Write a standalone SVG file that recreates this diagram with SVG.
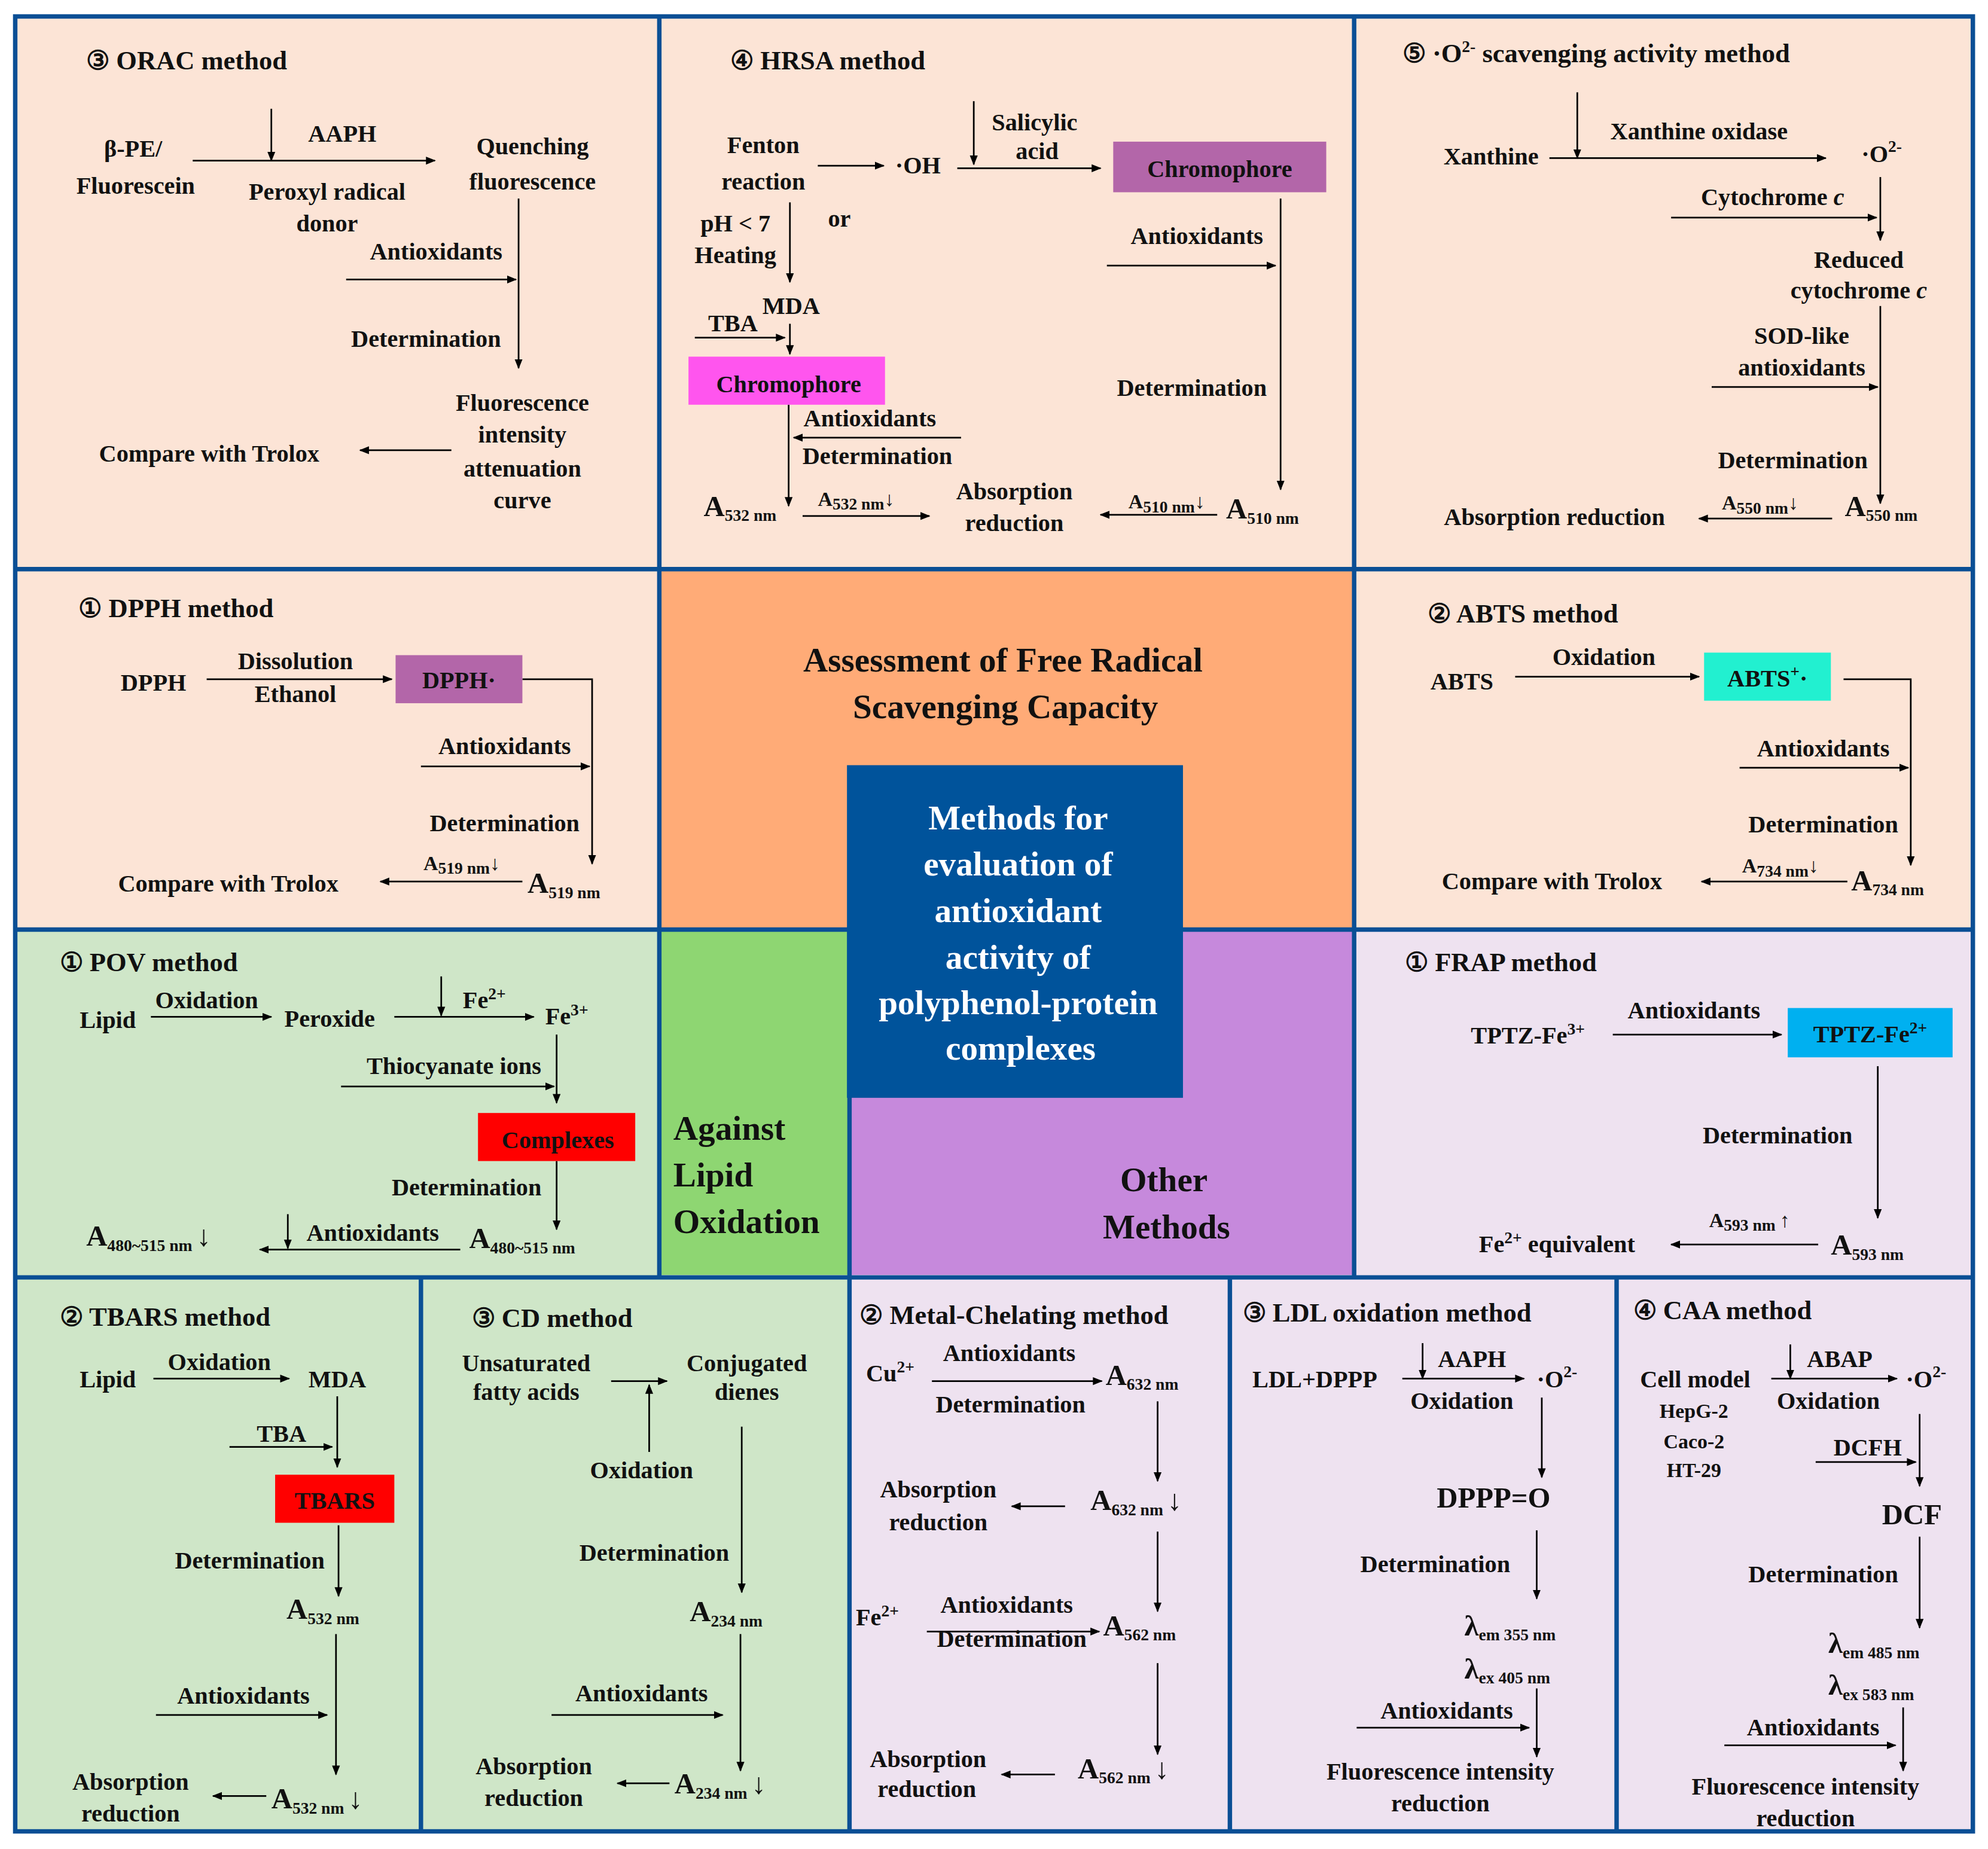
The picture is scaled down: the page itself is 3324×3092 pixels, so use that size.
<svg xmlns="http://www.w3.org/2000/svg" width="3324" height="3092" viewBox="0 0 3324 3092">
<style>
text{font-family:"Liberation Serif","Times New Roman",serif;font-weight:bold;fill:#111;font-size:19px}
.c{text-anchor:middle}
.h{font-size:21px}
.big{font-size:27px}
.w{fill:#fff}
.s{font-size:13px}
.sm{font-size:16px}
.A{font-size:23px}
.ln{stroke:#000;stroke-width:1.3;fill:none}
.ar{stroke:#000;stroke-width:1.3;fill:none;marker-end:url(#m)}
.grid{stroke:#0A4F95;stroke-width:3.5;fill:none}
</style>
<defs>
<marker id="m" viewBox="0 0 10 10" refX="9" refY="5" markerWidth="6" markerHeight="6" orient="auto" markerUnits="strokeWidth"><path d="M0,1 L10,5 L0,9 z" fill="#000"/></marker>
</defs>
<rect width="3324" height="3092" fill="#fff"/>
<g transform="scale(2.12,2.115)">
<g id="backgrounds">
<rect x="12" y="13" width="1544" height="722" fill="#FCE4D6"/>
<rect x="520" y="450" width="548" height="285" fill="#FFAB77"/>
<rect x="12" y="735" width="658" height="713" fill="#CFE6C8"/>
<rect x="520" y="735" width="150" height="273" fill="#8ED672"/>
<rect x="670" y="735" width="886" height="713" fill="#EEE2F0"/>
<rect x="670" y="735" width="398" height="273" fill="#C689DC"/>
</g>
<g id="grid">
<rect class="grid" x="12" y="13" width="1544" height="1435"/>
<path class="grid" d="M12,450H1556 M12,735H1556 M12,1010H1556 M520,13V1010 M1068,13V1010 M670,735V1448 M332,1010V1448 M970,1010V1448 M1275,1010V1448"/>
</g>
<g id="center">
<rect x="668" y="605" width="265" height="263" fill="#00539B"/>
<text class="c big w" x="803" y="656">Methods for</text>
<text class="c big w" x="803" y="692">evaluation of</text>
<text class="c big w" x="803" y="729">antioxidant</text>
<text class="c big w" x="803" y="766">activity of</text>
<text class="c big w" x="803" y="802">polyphenol-protein</text>
<text class="c big w" x="805" y="838">complexes</text>
</g>
<g id="category-labels">
<text class="c big" x="791" y="531">Assessment of Free Radical</text>
<text class="c big" x="793" y="568">Scavenging Capacity</text>
<text class="big" x="531" y="901">Against</text>
<text class="big" x="531" y="938">Lipid</text>
<text class="big" x="531" y="975">Oxidation</text>
<text class="c big" x="918" y="942">Other</text>
<text class="c big" x="920" y="979">Methods</text>
</g>
<g id="connectors">
<!-- ORAC -->
<path class="ar" d="M152,127H343"/><path class="ar" d="M214,86V127"/>
<path class="ar" d="M409,157V291"/><path class="ar" d="M273,221H407"/>
<path class="ar" d="M356,356H284"/>
<!-- HRSA -->
<path class="ar" d="M645,131H697"/><path class="ar" d="M768,80V130"/><path class="ar" d="M755,133H868"/>
<path class="ar" d="M623,160V223"/><path class="ar" d="M548,267H619"/><path class="ar" d="M623,256V280"/>
<path class="ar" d="M622,320V400"/><path class="ar" d="M758,346H626"/><path class="ar" d="M633,408H733"/>
<path class="ar" d="M873,210H1006"/><path class="ar" d="M1010,157V387"/><path class="ar" d="M960,407H868"/>
<!-- O2 -->
<path class="ar" d="M1222,125H1440"/><path class="ar" d="M1244,73V125"/>
<path class="ar" d="M1483,140V190"/><path class="ar" d="M1318,172H1480"/>
<path class="ar" d="M1483,242V398"/><path class="ar" d="M1350,306H1481"/><path class="ar" d="M1445,410H1340"/>
<!-- DPPH -->
<path class="ar" d="M163,537H309"/><path class="ar" d="M412,537H467V683"/><path class="ar" d="M332,606H465"/><path class="ar" d="M412,697H300"/>
<!-- ABTS -->
<path class="ar" d="M1195,535H1340"/><path class="ar" d="M1454,537H1507V684"/><path class="ar" d="M1372,607H1505"/><path class="ar" d="M1457,697H1342"/>
<!-- POV -->
<path class="ar" d="M119,804H214"/><path class="ar" d="M311,804H421"/><path class="ar" d="M348,772V803"/>
<path class="ar" d="M439,818V872"/><path class="ar" d="M269,859H437"/><path class="ar" d="M439,918V972"/>
<path class="ar" d="M363,988H205"/><path class="ar" d="M227,960V987"/>
<!-- FRAP -->
<path class="ar" d="M1272,818H1405"/><path class="ar" d="M1481,843V963"/><path class="ar" d="M1434,984H1318"/>
<!-- TBARS -->
<path class="ar" d="M121,1090H228"/><path class="ar" d="M266,1104V1160"/><path class="ar" d="M181,1144H262"/>
<path class="ar" d="M267,1206V1262"/><path class="ar" d="M265,1292V1403"/><path class="ar" d="M123,1356H258"/><path class="ar" d="M210,1420H168"/>
<!-- CD -->
<path class="ar" d="M482,1092H526"/><path class="ar" d="M512,1148V1095"/><path class="ar" d="M585,1128V1259"/>
<path class="ar" d="M584,1292V1400"/><path class="ar" d="M435,1356H570"/><path class="ar" d="M528,1410H487"/>
<!-- Metal -->
<path class="ar" d="M735,1092H869"/><path class="ar" d="M913,1108V1171"/><path class="ar" d="M840,1191H798"/>
<path class="ar" d="M913,1211V1274"/><path class="ar" d="M731,1290H867"/><path class="ar" d="M913,1315V1387"/><path class="ar" d="M832,1403H790"/>
<!-- LDL -->
<path class="ar" d="M1106,1090H1202"/><path class="ar" d="M1122,1062V1090"/><path class="ar" d="M1216,1105V1168"/>
<path class="ar" d="M1212,1210V1264"/><path class="ar" d="M1212,1335V1389"/><path class="ar" d="M1070,1366H1206"/>
<!-- CAA -->
<path class="ar" d="M1397,1090H1496"/><path class="ar" d="M1412,1063V1090"/><path class="ar" d="M1514,1118V1175"/><path class="ar" d="M1432,1156H1511"/>
<path class="ar" d="M1514,1215V1287"/><path class="ar" d="M1501,1350V1400"/><path class="ar" d="M1360,1380H1495"/>
</g>
<g id="orac">
<text class="h" x="68" y="55">③ ORAC method</text>
<text class="c" x="105" y="124">β-PE/</text><text class="c" x="107" y="153">Fluorescein</text>
<text class="c" x="270" y="112">AAPH</text>
<text class="c" x="258" y="158">Peroxyl radical</text><text class="c" x="258" y="183">donor</text>
<text class="c" x="420" y="122">Quenching</text><text class="c" x="420" y="150">fluorescence</text>
<text class="c" x="344" y="205">Antioxidants</text><text class="c" x="336" y="274">Determination</text>
<text class="c" x="412" y="325">Fluorescence</text><text class="c" x="412" y="350">intensity</text><text class="c" x="412" y="377">attenuation</text><text class="c" x="412" y="402">curve</text>
<text class="c" x="165" y="365">Compare  with  Trolox</text>
</g>
<g id="hrsa">
<text class="h" x="576" y="55">④ HRSA method</text>
<text class="c" x="602" y="121">Fenton</text><text class="c" x="602" y="150">reaction</text>
<text class="c" x="724" y="137">·OH</text>
<text class="c" x="816" y="103">Salicylic</text><text class="c" x="818" y="126">acid</text>
<rect x="878" y="112" width="168" height="40" fill="#B366A9"/>
<text class="c" x="962" y="140">Chromophore</text>
<text class="c" x="662" y="179">or</text>
<text class="c" x="580" y="183">pH &lt; 7</text><text class="c" x="580" y="208">Heating</text>
<text class="c" x="624" y="248">MDA</text><text class="c" x="578" y="262">TBA</text>
<rect x="543" y="282" width="155" height="38" fill="#FF55EE"/>
<text class="c" x="622" y="310">Chromophore</text>
<text class="c" x="686" y="337">Antioxidants</text><text class="c" x="692" y="367">Determination</text>
<text class="A" x="555" y="408">A<tspan class="s" dy="4">532 nm</tspan></text>
<text class="sm" x="645" y="400">A<tspan class="s" dy="3">532 nm</tspan><tspan dy="-3">↓</tspan></text>
<text class="c" x="800" y="395">Absorption</text><text class="c" x="800" y="420">reduction</text>
<text class="c" x="944" y="193">Antioxidants</text><text class="c" x="940" y="313">Determination</text>
<text class="sm" x="890" y="402">A<tspan class="s" dy="3">510 nm</tspan><tspan dy="-3">↓</tspan></text>
<text class="A" x="967" y="410">A<tspan class="s" dy="4">510 nm</tspan></text>
</g>
<g id="superoxide">
<text class="h" x="1106" y="49">⑤ ·O<tspan class="s" dy="-8">2-</tspan><tspan dy="8"> scavenging activity method</tspan></text>
<text class="c" x="1176" y="130">Xanthine</text>
<text class="c" x="1340" y="110">Xanthine oxidase</text>
<text class="c" x="1484" y="128">·O<tspan class="s" dy="-8">2-</tspan></text>
<text class="c" x="1398" y="162">Cytochrome <tspan font-style="italic">c</tspan></text>
<text class="c" x="1466" y="212">Reduced</text><text class="c" x="1466" y="236">cytochrome <tspan font-style="italic">c</tspan></text>
<text class="c" x="1421" y="272">SOD-like</text><text class="c" x="1421" y="297">antioxidants</text>
<text class="c" x="1414" y="370">Determination</text>
<text class="sm" x="1358" y="403">A<tspan class="s" dy="3">550 nm</tspan><tspan dy="-3">↓</tspan></text>
<text class="A" x="1455" y="408">A<tspan class="s" dy="4">550 nm</tspan></text>
<text class="c" x="1226" y="415">Absorption reduction</text>
</g>
<g id="dpph">
<text class="h" x="62" y="488">① DPPH method</text>
<text class="c" x="121" y="546">DPPH</text>
<text class="c" x="233" y="529">Dissolution</text><text class="c" x="233" y="555">Ethanol</text>
<rect x="312" y="518" width="100" height="38" fill="#B366A9"/>
<text class="c" x="362" y="544">DPPH·</text>
<text class="c" x="398" y="596">Antioxidants</text><text class="c" x="398" y="657">Determination</text>
<text class="sm" x="334" y="688">A<tspan class="s" dy="3">519 nm</tspan><tspan dy="-3">↓</tspan></text>
<text class="A" x="416" y="706">A<tspan class="s" dy="4">519 nm</tspan></text>
<text class="c" x="180" y="705">Compare  with  Trolox</text>
</g>
<g id="abts">
<text class="h" x="1126" y="492">② ABTS method</text>
<text class="c" x="1153" y="545">ABTS</text>
<text class="c" x="1265" y="526">Oxidation</text>
<rect x="1344" y="516" width="100" height="38" fill="#22F0D0"/>
<text class="c" x="1394" y="543">ABTS<tspan class="s" dy="-8">+</tspan><tspan dy="8">·</tspan></text>
<text class="c" x="1438" y="598">Antioxidants</text><text class="c" x="1438" y="658">Determination</text>
<text class="sm" x="1374" y="690">A<tspan class="s" dy="3">734 nm</tspan><tspan dy="-3">↓</tspan></text>
<text class="A" x="1460" y="704">A<tspan class="s" dy="4">734 nm</tspan></text>
<text class="c" x="1224" y="703">Compare  with  Trolox</text>
</g>
<g id="pov">
<text class="h" x="47" y="768">① POV method</text>
<text class="c" x="85" y="813">Lipid</text><text class="c" x="163" y="797">Oxidation</text>
<text class="c" x="260" y="812">Peroxide</text>
<text class="c" x="382" y="797">Fe<tspan class="s" dy="-7">2+</tspan></text>
<text class="c" x="447" y="810">Fe<tspan class="s" dy="-7">3+</tspan></text>
<text class="c" x="358" y="849">Thiocyanate ions</text>
<rect x="377" y="880" width="124" height="38" fill="#FF0000"/>
<text class="c" x="440" y="908">Complexes</text>
<text class="c" x="368" y="945">Determination</text>
<text class="c" x="294" y="981">Antioxidants</text>
<text class="A" x="370" y="987">A<tspan class="s" dy="4">480~515 nm</tspan></text>
<text class="A" x="68" y="985">A<tspan class="s" dy="4">480~515 nm </tspan><tspan dy="-4">↓</tspan></text>
</g>
<g id="frap">
<text class="h" x="1108" y="768">① FRAP method</text>
<text class="c" x="1205" y="825">TPTZ-Fe<tspan class="s" dy="-7">3+</tspan></text>
<text class="c" x="1336" y="805">Antioxidants</text>
<rect x="1410" y="797" width="130" height="39" fill="#00B0F0"/>
<text class="c" x="1475" y="824">TPTZ-Fe<tspan class="s" dy="-7">2+</tspan></text>
<text class="c" x="1402" y="904">Determination</text>
<text class="sm" x="1348" y="970">A<tspan class="s" dy="3">593 nm </tspan><tspan dy="-3">↑</tspan></text>
<text class="A" x="1444" y="992">A<tspan class="s" dy="4">593 nm</tspan></text>
<text class="c" x="1228" y="990">Fe<tspan class="s" dy="-7">2+</tspan><tspan dy="7"> equivalent</tspan></text>
</g>
<g id="tbars">
<text class="h" x="47" y="1048">② TBARS method</text>
<text class="c" x="85" y="1097">Lipid</text><text class="c" x="173" y="1083">Oxidation</text>
<text class="c" x="266" y="1097">MDA</text><text class="c" x="222" y="1140">TBA</text>
<rect x="217" y="1166" width="94" height="38" fill="#FF0000"/>
<text class="c" x="264" y="1193">TBARS</text>
<text class="c" x="197" y="1240">Determination</text>
<text class="A" x="226" y="1280">A<tspan class="s" dy="4">532 nm</tspan></text>
<text class="c" x="192" y="1347">Antioxidants</text>
<text class="A" x="214" y="1430">A<tspan class="s" dy="4">532 nm </tspan><tspan dy="-4">↓</tspan></text>
<text class="c" x="103" y="1415">Absorption</text><text class="c" x="103" y="1440">reduction</text>
</g>
<g id="cd">
<text class="h" x="372" y="1049">③ CD method</text>
<text class="c" x="415" y="1084">Unsaturated</text><text class="c" x="415" y="1107">fatty acids</text>
<text class="c" x="589" y="1084">Conjugated</text><text class="c" x="589" y="1107">dienes</text>
<text class="c" x="506" y="1169">Oxidation</text><text class="c" x="516" y="1234">Determination</text>
<text class="A" x="544" y="1282">A<tspan class="s" dy="4">234 nm</tspan></text>
<text class="c" x="506" y="1345">Antioxidants</text>
<text class="A" x="532" y="1418">A<tspan class="s" dy="4">234 nm </tspan><tspan dy="-4">↓</tspan></text>
<text class="c" x="421" y="1403">Absorption</text><text class="c" x="421" y="1428">reduction</text>
</g>
<g id="metal">
<text class="h" x="678" y="1047">② Metal-Chelating  method</text>
<text x="683" y="1092">Cu<tspan class="s" dy="-7">2+</tspan></text>
<text class="c" x="796" y="1076">Antioxidants</text><text class="c" x="797" y="1117">Determination</text>
<text class="A" x="872" y="1095">A<tspan class="s" dy="4">632 nm</tspan></text>
<text class="c" x="740" y="1184">Absorption</text><text class="c" x="740" y="1210">reduction</text>
<text class="A" x="860" y="1194">A<tspan class="s" dy="4">632 nm </tspan><tspan dy="-4">↓</tspan></text>
<text x="675" y="1285">Fe<tspan class="s" dy="-7">2+</tspan></text>
<text class="c" x="794" y="1275">Antioxidants</text><text class="c" x="798" y="1302">Determination</text>
<text class="A" x="870" y="1293">A<tspan class="s" dy="4">562 nm</tspan></text>
<text class="c" x="732" y="1397">Absorption</text><text class="c" x="731" y="1421">reduction</text>
<text class="A" x="850" y="1406">A<tspan class="s" dy="4">562 nm </tspan><tspan dy="-4">↓</tspan></text>
</g>
<g id="ldl">
<text class="h" x="980" y="1045">③ LDL oxidation  method</text>
<text class="c" x="1037" y="1097">LDL+DPPP</text>
<text class="c" x="1161" y="1081">AAPH</text><text class="c" x="1153" y="1114">Oxidation</text>
<text class="c" x="1228" y="1097">·O<tspan class="s" dy="-8">2-</tspan></text>
<text class="c A" x="1178" y="1192">DPPP=O</text>
<text class="c" x="1132" y="1243">Determination</text>
<text class="A" x="1155" y="1293">λ<tspan class="s" dy="4">em 355 nm</tspan></text>
<text class="A" x="1155" y="1327">λ<tspan class="s" dy="4">ex 405 nm</tspan></text>
<text class="c" x="1141" y="1359">Antioxidants</text>
<text class="c" x="1136" y="1407">Fluorescence intensity</text><text class="c" x="1136" y="1432">reduction</text>
</g>
<g id="caa">
<text class="h" x="1288" y="1043">④ CAA method</text>
<text class="c" x="1337" y="1097">Cell model</text>
<text class="c sm" x="1336" y="1121">HepG-2</text><text class="c sm" x="1336" y="1145">Caco-2</text><text class="c sm" x="1336" y="1168">HT-29</text>
<text class="c" x="1451" y="1081">ABAP</text><text class="c" x="1442" y="1114">Oxidation</text>
<text class="c" x="1519" y="1097">·O<tspan class="s" dy="-8">2-</tspan></text>
<text class="c" x="1473" y="1151">DCFH</text>
<text class="c A" x="1508" y="1205">DCF</text>
<text class="c" x="1438" y="1251">Determination</text>
<text class="A" x="1442" y="1307">λ<tspan class="s" dy="4">em 485 nm</tspan></text>
<text class="A" x="1442" y="1340">λ<tspan class="s" dy="4">ex 583 nm</tspan></text>
<text class="c" x="1430" y="1372">Antioxidants</text>
<text class="c" x="1424" y="1419">Fluorescence intensity</text><text class="c" x="1424" y="1444">reduction</text>
</g>
</g>
</svg>
